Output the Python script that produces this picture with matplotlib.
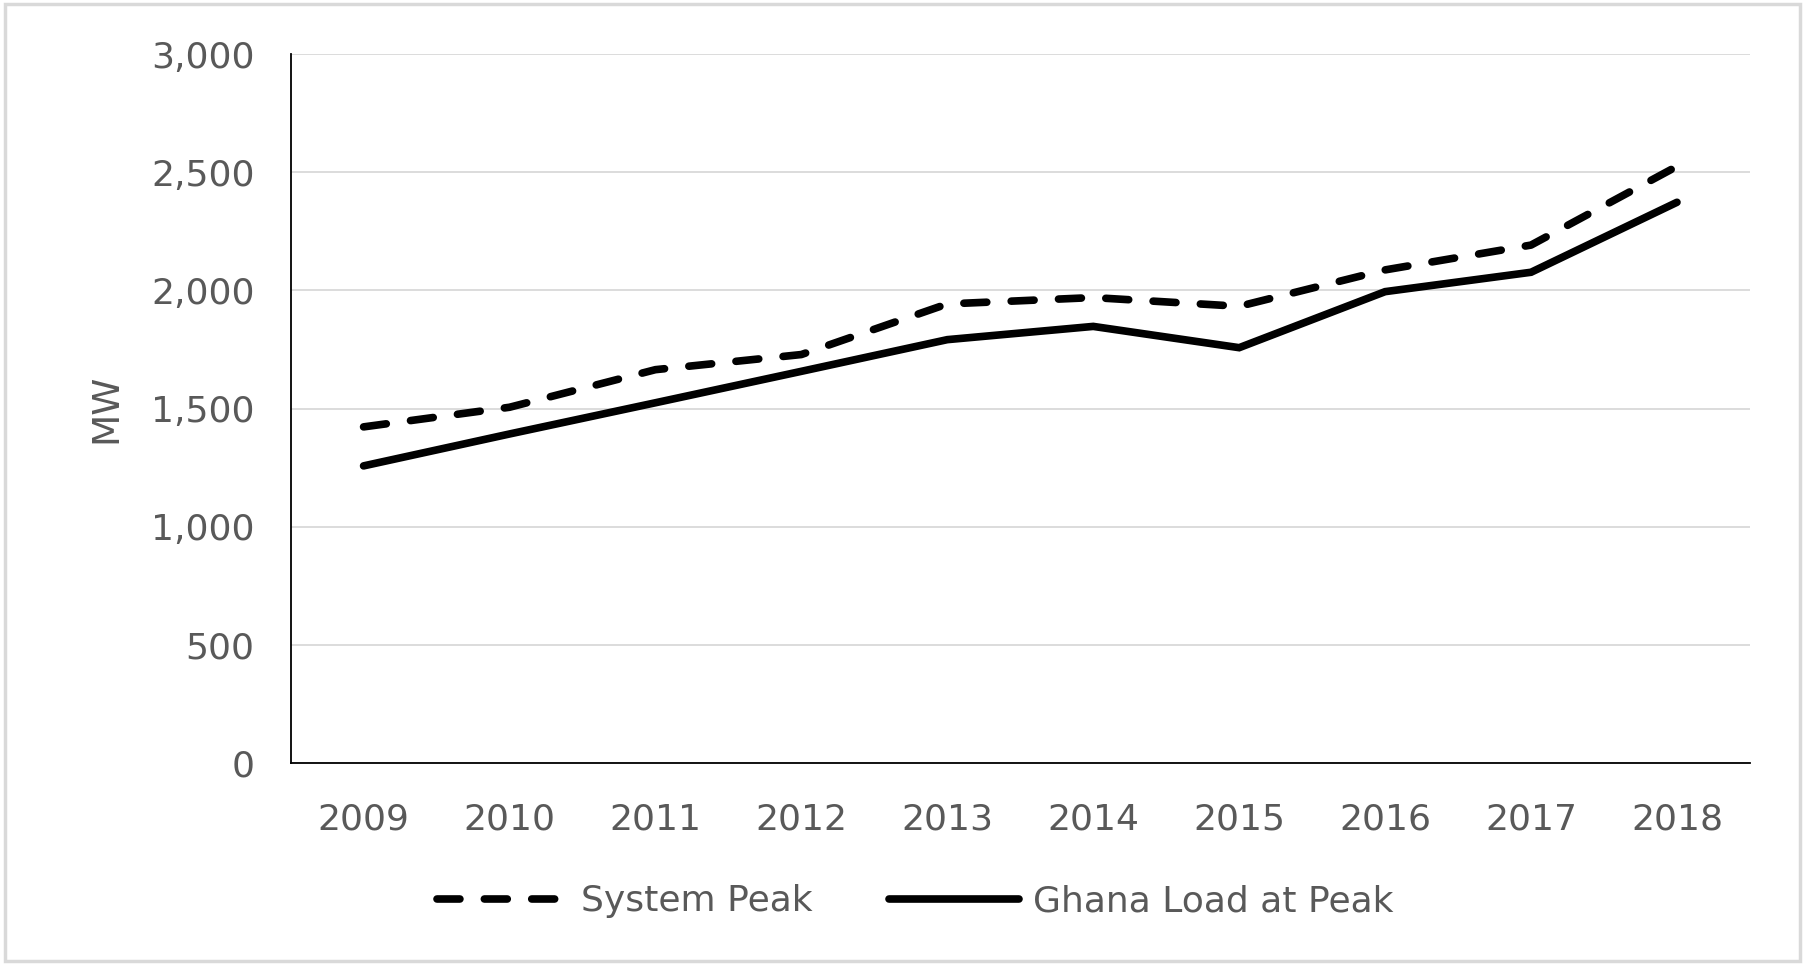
import matplotlib
matplotlib.use("Agg")
import matplotlib.pyplot as plt
from matplotlib.patches import Rectangle
from matplotlib.ticker import FuncFormatter

# data (MW)
years = ["2009", "2010", "2011", "2012", "2013", "2014", "2015", "2016", "2017", "2018"]
system_peak = [1423, 1506, 1665, 1729, 1943, 1970, 1933, 2087, 2192, 2525]
ghana_load = [1258, 1393, 1525, 1658, 1792, 1848, 1758, 1995, 2077, 2373]
y_ticks = [0, 500, 1000, 1500, 2000, 2500, 3000]

text_grey = "#595959"
grid_grey = "#d9d9d9"

plt.rcParams["font.family"] = ["DejaVu Sans"]

fig = plt.figure(figsize=(18.05, 9.65), dpi=100)
ax = fig.add_axes([0.161, 0.209, 0.8085, 0.735])

x = range(len(years))
ax.plot(x, system_peak, color="black", lw=5.5,
        linestyle=(0, (3, 3.2)), dash_capstyle="round",
        solid_capstyle="round", label="System Peak")
ax.plot(x, ghana_load, color="black", lw=5.5,
        solid_capstyle="round", solid_joinstyle="miter",
        label="Ghana Load at Peak")

ax.set_xlim(-0.5, len(years) - 0.5)
ax.set_ylim(0, 3000)
ax.set_xticks(list(x))
ax.set_xticklabels(years)
ax.set_yticks(y_ticks)
ax.yaxis.set_major_formatter(FuncFormatter(lambda v, p: f"{int(v):,}"))

ax.grid(axis="y", color=grid_grey, lw=1.3)
ax.set_axisbelow(True)
for side in ["top", "right"]:
    ax.spines[side].set_visible(False)
for side in ["left", "bottom"]:
    ax.spines[side].set_color("black")
    ax.spines[side].set_linewidth(1.3)

ax.tick_params(axis="both", length=0, labelsize=26, labelcolor=text_grey)
ax.tick_params(axis="y", pad=26)
ax.tick_params(axis="x", pad=28)

ax.set_ylabel("MW", fontsize=27, color=text_grey)
ax.yaxis.set_label_coords(-0.114, 0.5)

fig.legend(loc="center", bbox_to_anchor=(0.507, 0.066), ncol=2, frameon=False,
           fontsize=26, labelcolor=text_grey, handlelength=3.6,
           handletextpad=0.4, columnspacing=2.1)

# light grey frame round the whole chart
fig.patches.append(Rectangle((0.003, 0.004), 0.994, 0.992, transform=fig.transFigure,
                             fill=False, edgecolor=grid_grey, lw=2.5))

fig.savefig("out.png", dpi=100)
